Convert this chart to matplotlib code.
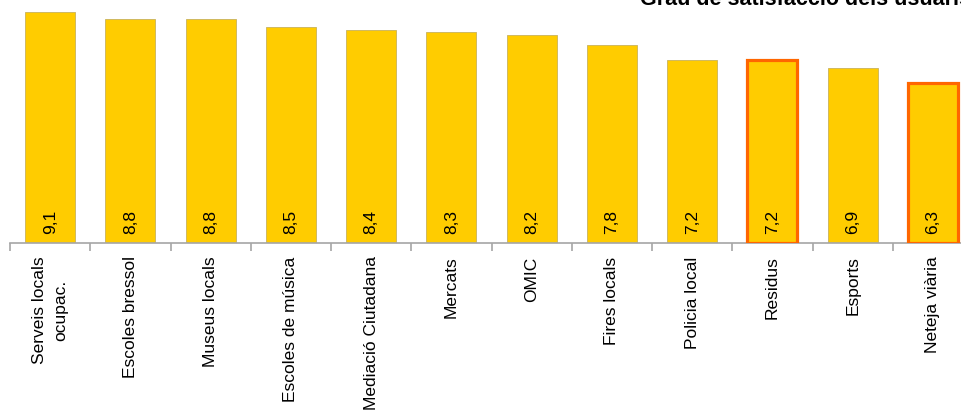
import matplotlib.pyplot as plt

categories = ["Serveis locals\nocupac.", "Escoles bressol", "Museus locals", "Escoles de música",
              "Mediació Ciutadana", "Mercats", "OMIC", "Fires locals", "Policia local",
              "Residus", "Esports", "Neteja viària"]
values = [9.1, 8.8, 8.8, 8.5, 8.4, 8.3, 8.2, 7.8, 7.2, 7.2, 6.9, 6.3]
highlight = ["Residus", "Neteja viària"]

plt.rcParams['font.family'] = ['Liberation Sans', 'DejaVu Sans']

W, H = 961, 414
fig = plt.figure(figsize=(W / 100, H / 100), dpi=100)
# axes positioned in pixels; chart is cropped on the right and top
left, bottom = 10, 414 - 244
width, height = 12 * 80.25, 254
ax = fig.add_axes([left / W, bottom / H, width / W, height / H])

x = list(range(len(categories)))
for i, (c, v) in enumerate(zip(categories, values)):
    if c in highlight:
        ax.bar(i, v, width=0.62, color='#FFCC00', edgecolor='#FF6600', linewidth=2.3, zorder=3)
    else:
        ax.bar(i, v, width=0.62, color='#FFCC00', edgecolor='#C9B25A', linewidth=0.6, zorder=2)
    ax.text(i, 0.38, f"{v:.1f}".replace('.', ','), rotation=90, ha='center', va='bottom',
            fontsize=12.5, color='#000000', zorder=4)

ax.set_xlim(-0.5, len(categories) - 0.5)
ax.set_ylim(0, 10)
ax.set_yticks([])
for s in ['top', 'right', 'left']:
    ax.spines[s].set_visible(False)
ax.spines['bottom'].set_color('#A6A6A6')
ax.spines['bottom'].set_linewidth(1.2)

ax.set_xticks([i - 0.5 for i in range(len(categories) + 1)])
ax.set_xticklabels([])
ax.set_xticks(x, minor=True)
ax.set_xticklabels(categories, minor=True, rotation=90, fontsize=12.5, va='top', ha='center',
                   multialignment='center', linespacing=1.45)
ax.tick_params(axis='x', which='major', length=6, color='#A6A6A6', width=1.2)
ax.tick_params(axis='x', which='minor', length=0, pad=9)

fig.text(640 / W, 1 - 5 / H, "Grau de satisfacció dels usuaris", fontsize=15.5,
         fontweight='bold', ha='left', va='baseline')

fig.savefig("out.png", dpi=100)
